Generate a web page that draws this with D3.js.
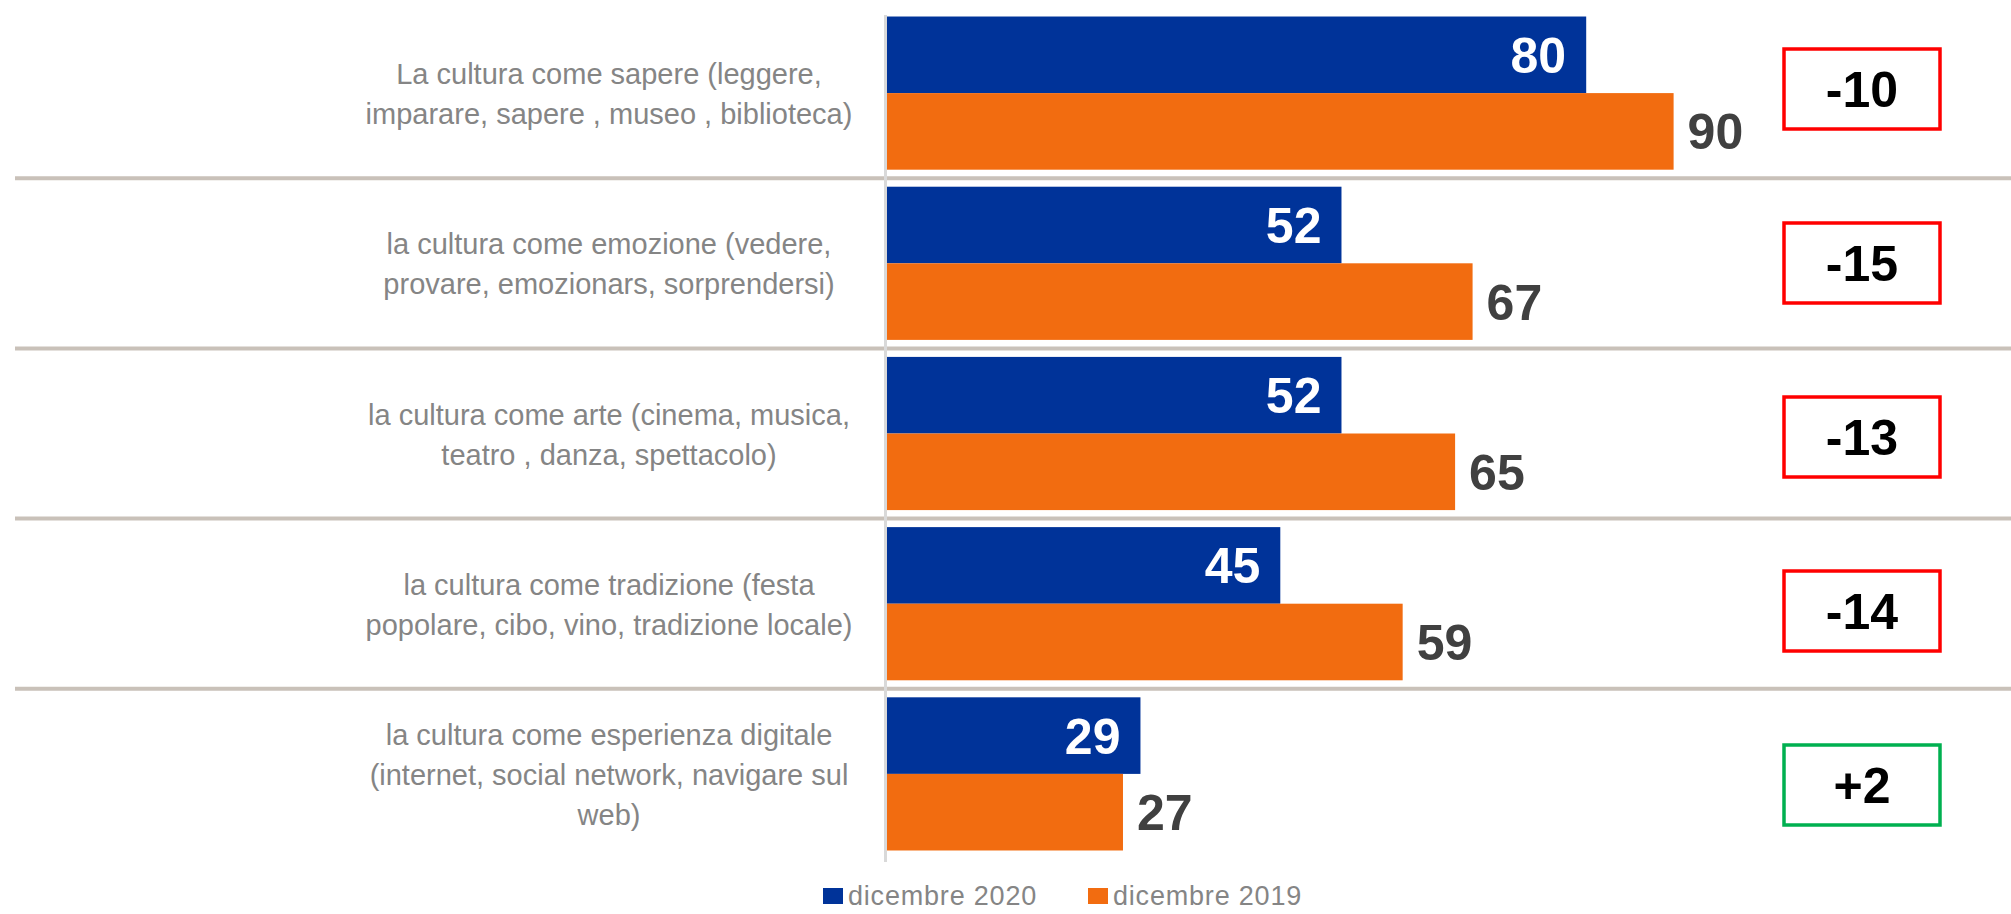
<!DOCTYPE html>
<html>
<head>
<meta charset="utf-8">
<script src="https://cdn.jsdelivr.net/npm/d3@7"></script>
<style>
  html, body { margin: 0; padding: 0; background: #fff; }
  svg { display: block; }
</style>
</head>
<body>
<div id="chart"></div>
<script>
// ---- Data ----
const categories = [
  ['La cultura come sapere (leggere,', 'imparare, sapere , museo , biblioteca)'],
  ['la cultura come emozione (vedere,', 'provare, emozionars, sorprendersi)'],
  ['la cultura come arte (cinema, musica,', 'teatro , danza, spettacolo)'],
  ['la cultura come tradizione (festa', 'popolare, cibo, vino, tradizione locale)'],
  ['la cultura come esperienza digitale', '(internet, social network, navigare sul', 'web)']
];
const seriesNames = ['dicembre 2020', 'dicembre 2019'];
const values2020 = [80, 52, 52, 45, 29];
const values2019 = [90, 67, 65, 59, 27];

const W = 2011, H = 914;
const colors = ['#003399', '#f26c10'];
const font = '"Liberation Sans", Arial, sans-serif';

const svg = d3.select('#chart').append('svg')
  .attr('width', W).attr('height', H);

const rows = d3.range(categories.length);

// ---- Scales ----
const x = d3.scaleLinear().domain([0, 100]).range([887, 1761]);
const y = d3.scaleBand().domain(rows).range([8, 859]).paddingInner(0.1).paddingOuter(0.05);
const ySub = d3.scaleBand().domain([0, 1]).range([0, y.bandwidth()]);
const yBox = d3.scaleBand().domain(rows).range([2, 872]);

// ---- Row separators ----
const step = y.step();
svg.append('g')
  .selectAll('line').data(rows.slice(1)).join('line')
  .attr('x1', 15).attr('x2', W)
  .attr('y1', d => y(d) - step * 0.05).attr('y2', d => y(d) - step * 0.05)
  .attr('stroke', '#c9c1b9').attr('stroke-width', 4);

// ---- Vertical axis line ----
svg.append('line')
  .attr('x1', 885.5).attr('x2', 885.5)
  .attr('y1', 15).attr('y2', 862)
  .attr('stroke', '#d9d9d9').attr('stroke-width', 3);

// ---- Category labels ----
const lineH = 40;
svg.append('g')
  .selectAll('text').data(categories).join('text')
  .attr('font-family', font)
  .attr('font-size', 29)
  .attr('fill', '#858585')
  .attr('text-anchor', 'middle')
  .each(function (lines, i) {
    const cy = y(i) + y.bandwidth() / 2;
    const n = lines.length;
    d3.select(this).selectAll('tspan').data(lines).join('tspan')
      .attr('x', 609)
      .attr('y', (_, k) => cy + (k - (n - 1) / 2) * lineH + 11)
      .text(d => d);
  });

// ---- Bars ----
const series = [values2020, values2019];
series.forEach((vals, s) => {
  const g = svg.append('g');
  g.selectAll('rect').data(vals).join('rect')
    .attr('x', x(0))
    .attr('y', (_, i) => y(i) + ySub(s))
    .attr('width', d => x(d) - x(0))
    .attr('height', ySub.bandwidth())
    .attr('fill', colors[s]);

  g.selectAll('text').data(vals).join('text')
    .attr('font-family', font)
    .attr('font-size', 50)
    .attr('font-weight', 'bold')
    .attr('x', d => s === 0 && d > 20 ? x(d) - 20 : x(d) + 14)
    .attr('text-anchor', d => s === 0 && d > 20 ? 'end' : 'start')
    .attr('y', (_, i) => y(i) + ySub(s) + ySub.bandwidth() / 2)
    .attr('dy', '0.36em')
    .attr('fill', s === 0 ? '#ffffff' : '#404040')
    .text(d => d);
});

// ---- Difference boxes ----
const diffs = values2020.map((v, i) => v - values2019[i]);
const fmt = d3.format('+d');
const boxW = 156, boxH = 80, boxX = 1784;
const boxes = svg.append('g').selectAll('g').data(diffs).join('g')
  .attr('transform', (_, i) => `translate(${boxX},${yBox(i) + yBox.bandwidth() / 2 - boxH / 2})`);
boxes.append('rect')
  .attr('width', boxW).attr('height', boxH)
  .attr('fill', '#fff')
  .attr('stroke', d => d < 0 ? '#ff0000' : '#00b050')
  .attr('stroke-width', 3.5);
boxes.append('text')
  .attr('x', boxW / 2).attr('y', boxH / 2)
  .attr('dy', '0.36em')
  .attr('text-anchor', 'middle')
  .attr('font-family', font)
  .attr('font-size', 50)
  .attr('font-weight', 'bold')
  .attr('fill', '#000')
  .text(d => d < 0 ? String(d) : fmt(d));

// ---- Legend ----
const legendX = [823, 1088];
const legend = svg.append('g').selectAll('g').data(seriesNames).join('g')
  .attr('transform', (_, i) => `translate(${legendX[i]},888)`);
legend.append('rect')
  .attr('width', 20).attr('height', 16)
  .attr('fill', (_, i) => colors[i]);
legend.append('text')
  .attr('x', 25).attr('y', 17)
  .attr('font-family', font)
  .attr('font-size', 27)
  .attr('letter-spacing', 0.8)
  .attr('fill', '#858585')
  .text(d => d);
</script>
</body>
</html>
